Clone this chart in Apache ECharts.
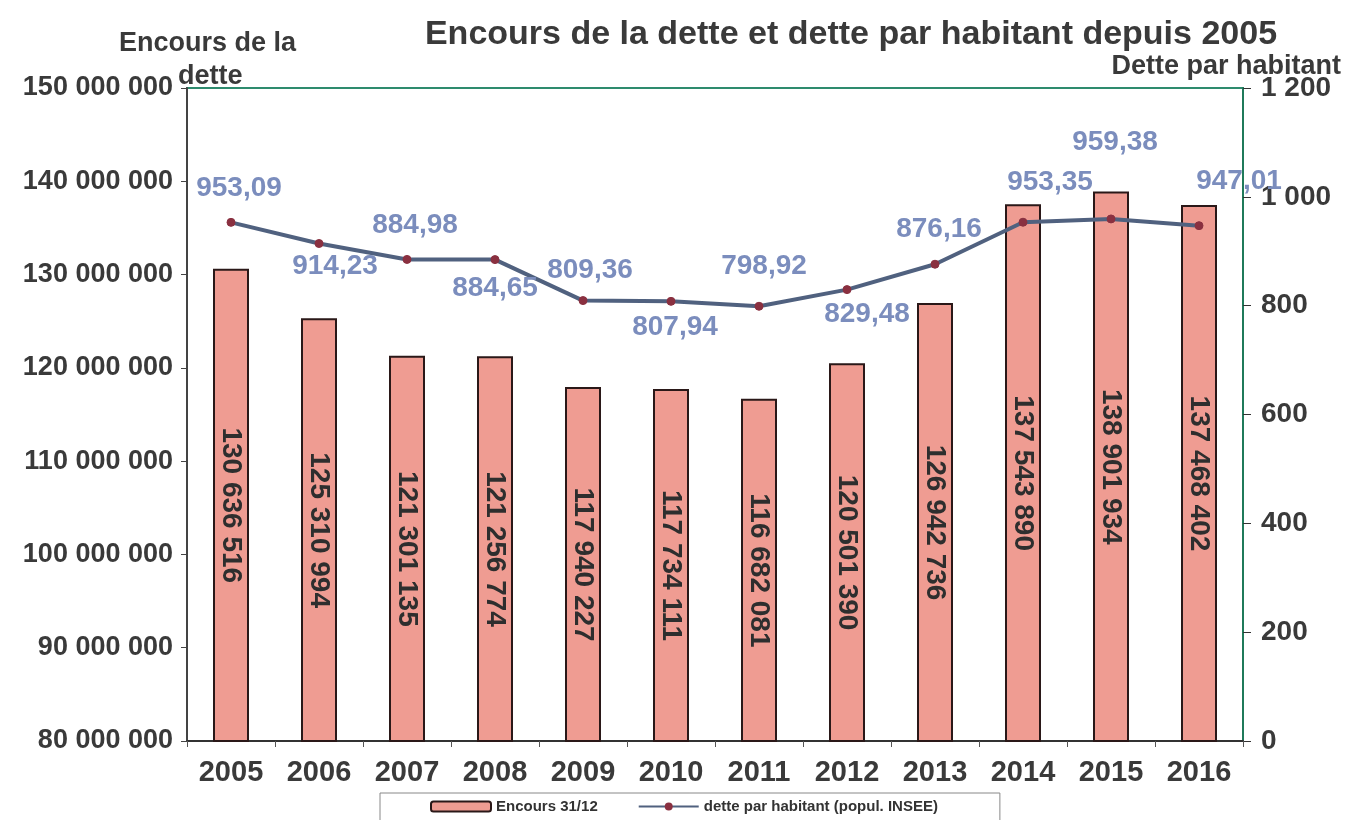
<!DOCTYPE html>
<html>
<head>
<meta charset="utf-8">
<script src="https://cdn.jsdelivr.net/npm/echarts@6/dist/echarts.min.js"></script>
<style>html,body{margin:0;padding:0;background:#fff}#c{width:1349px;height:820px}</style>
</head>
<body>
<div id="c"></div>
<script>
var years = ['2005','2006','2007','2008','2009','2010','2011','2012','2013','2014','2015','2016'];
var encours = [130636516,125310994,121301135,121256774,117940227,117734111,116682081,120501390,126942736,137543890,138901934,137468402];
var detteHab = [953.09,914.23,884.98,884.65,809.36,807.94,798.92,829.48,876.16,953.35,959.38,947.01];
var titleText = 'Encours de la dette et dette par habitant depuis 2005';
var leftName1 = 'Encours de la';
var leftName2 = 'dette';
var rightName = 'Dette par habitant';
var seriesNames = ['Encours 31/12','dette par habitant (popul. INSEE)'];

// label placement (layout only)
var lblPlace = [
  ['top',[8,-11]],['bottom',[16,-1]],['top',[8,-11]],['bottom',[0,5]],
  ['top',[7,-7]],['bottom',[4,2]],['top',[5,-16]],['bottom',[20,1]],
  ['top',[4,-11]],['top',[27,-16]],['top',[4,-53]],['top',[40,-21]]
];

var FONT = '"Liberation Sans", Arial, sans-serif';
function spaced(n){ return String(Math.round(n)).replace(/\B(?=(\d{3})+(?!\d))/g,' '); }
function frDec(v){ return v.toFixed(2).replace('.',','); }

var lineData = detteHab.map(function(v,i){
  return {value:v, label:{position:lblPlace[i][0], offset:lblPlace[i][1]}};
});

var chart = echarts.init(document.getElementById('c'));
chart.setOption({
  backgroundColor:'#fff',
  animation:false,
  textStyle:{fontFamily:FONT},
  grid:{left:187,right:106,top:88,bottom:79,show:true,borderColor:'#2e8b6e',borderWidth:2,backgroundColor:'transparent'},
  title:{text:titleText,left:846,textAlign:'center',top:13,textStyle:{fontFamily:FONT,fontSize:34,fontWeight:'bold',color:'#3a3a3a'}},
  graphic:[
    {type:'text',left:119,top:30,style:{text:leftName1,font:'bold 27px '+FONT,fill:'#3a3a3a'}},
    {type:'text',left:178,top:63,style:{text:leftName2,font:'bold 27px '+FONT,fill:'#3a3a3a'}},
    {type:'text',right:8,top:53,style:{text:rightName,font:'bold 27px '+FONT,fill:'#3a3a3a'}}
  ],
  legend:{
    left:380,top:793,orient:'horizontal',
    padding:[6,62,20,50],itemGap:40,
    borderColor:'#888',borderWidth:1,
    itemWidth:60,itemHeight:10,
    textStyle:{fontFamily:FONT,fontSize:15,fontWeight:'bold',color:'#333'},
    data:seriesNames
  },
  xAxis:{
    type:'category',data:years,
    axisLine:{lineStyle:{color:'#333',width:2}},
    axisTick:{show:true,alignWithLabel:false,length:6,lineStyle:{color:'#555'}},
    axisLabel:{margin:17,fontFamily:FONT,fontSize:29,fontWeight:'bold',color:'#3a3a3a'},
    splitLine:{show:false}
  },
  yAxis:[
    {type:'value',min:80000000,max:150000000,interval:10000000,
     axisLine:{show:true,lineStyle:{color:'#444',width:2}},
     axisTick:{show:true,length:6,lineStyle:{color:'#444'}},
     axisLabel:{margin:14,fontFamily:FONT,fontSize:27,fontWeight:'bold',color:'#3a3a3a',formatter:spaced},
     splitLine:{show:false}},
    {type:'value',min:0,max:1200,interval:200,position:'right',
     axisLine:{show:true,lineStyle:{color:'#1f7a5a',width:2}},
     axisTick:{show:true,length:8,inside:false,lineStyle:{color:'#333'}},
     axisLabel:{margin:18,fontFamily:FONT,fontSize:28,fontWeight:'bold',color:'#3a3a3a',formatter:spaced},
     splitLine:{show:false}}
  ],
  series:[
    {name:seriesNames[0],type:'bar',yAxisIndex:0,data:encours,barWidth:36,
     itemStyle:{color:'#ef9c92',borderColor:'#2a1818',borderWidth:2},
     label:{show:true,position:'inside',rotate:-90,fontFamily:FONT,fontSize:28,fontWeight:'bold',color:'#2e2e2e',
       formatter:function(p){return spaced(p.value);}}},
    {name:seriesNames[1],type:'line',yAxisIndex:1,data:lineData,
     symbol:'circle',symbolSize:8,
     lineStyle:{color:'#50617f',width:4},
     itemStyle:{color:'#8a3040',borderColor:'#8a3040'},
     label:{show:true,fontFamily:FONT,fontSize:28,fontWeight:'bold',color:'#7b8dbd',
       formatter:function(p){return frDec(p.value);}}}
  ]
});
</script>
</body>
</html>
